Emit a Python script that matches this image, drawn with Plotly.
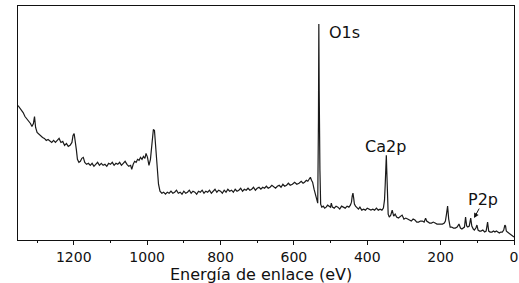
import plotly.graph_objects as go

# Binding energy (eV) and intensity (a.u.)
energy = [1352, 1348, 1343, 1338, 1333, 1328, 1323, 1318, 1314, 1310, 1307, 1304, 1300,
          1295, 1290, 1285, 1280, 1275, 1270, 1265, 1260, 1255, 1250, 1245, 1240, 1235,
          1230, 1225, 1220, 1215, 1210, 1205, 1202, 1199, 1196, 1193, 1190, 1186, 1182,
          1178, 1174, 1170, 1165, 1160, 1155, 1150, 1145, 1140, 1135, 1130, 1125, 1120,
          1115, 1110, 1105, 1100, 1095, 1090, 1085, 1080, 1075, 1070, 1065, 1060, 1055,
          1050, 1045, 1042, 1038, 1034, 1030, 1026, 1022, 1018, 1014, 1010, 1006, 1003,
          999, 995, 991, 987, 983, 980, 977, 973, 969, 965, 960, 955, 950, 945, 940, 935,
          930, 925, 920, 915, 910, 905, 900, 895, 890, 885, 880, 875, 870, 865, 860, 855,
          850, 845, 840, 835, 830, 825, 820, 815, 810, 805, 800, 795, 790, 785, 780, 775,
          770, 765, 760, 755, 750, 745, 740, 735, 730, 725, 720, 715, 710, 705, 700, 695,
          690, 685, 680, 675, 670, 665, 660, 655, 650, 645, 640, 635, 630, 625, 620, 615,
          610, 604, 598, 592, 586, 580, 575, 571, 566, 562, 558, 555, 552, 549, 545, 541,
          538, 535, 533, 532, 531, 529, 527, 524, 520, 516, 512, 508, 504, 500, 498, 495,
          490, 485, 480, 475, 470, 465, 460, 455, 450, 446, 443, 441, 439, 437, 435, 432,
          428, 424, 420, 415, 410, 405, 400, 395, 390, 385, 380, 375, 370, 365, 360, 356,
          353, 351, 349, 348, 347, 345, 343, 340, 336, 332, 328, 324, 320, 315, 310, 305,
          300, 295, 290, 285, 280, 275, 270, 265, 260, 255, 250, 245, 241, 238, 235, 230,
          225, 220, 215, 210, 205, 200, 195, 190, 187, 184, 181, 178, 174, 170, 165, 160,
          155, 150, 146, 142, 138, 135, 132, 129, 126, 122, 118, 115, 111, 108, 104, 101,
          98, 94, 90, 85, 80, 76, 72, 69, 65, 60, 56, 52, 48, 44, 40, 36, 32, 28, 25, 23,
          21, 18, 14, 10, 6, 3, 0]
intensity = [135, 133, 130, 128, 124, 122, 119, 117, 114, 117, 124, 113, 108,
             106, 104, 103, 102, 100, 101, 99, 98, 100, 98, 100, 102, 98,
             99, 95, 97, 94, 95, 98, 105, 107, 101, 91, 81, 78, 79,
             82, 83, 78, 76, 77, 75, 77, 74, 76, 78, 75, 77, 75,
             76, 74, 77, 76, 78, 75, 77, 76, 78, 75, 77, 79, 76,
             74, 75, 71, 76, 79, 78, 81, 80, 83, 81, 84, 82, 87,
             83, 75, 81, 96, 111, 110, 96, 73, 56, 49, 47, 48, 46, 48, 47, 49,
             47, 48, 50, 47, 48, 46, 49, 47, 48, 50, 47, 49, 48, 46, 49, 48,
             50, 47, 49, 48, 50, 47, 49, 51, 48, 50, 49, 47, 50, 48, 51, 49,
             50, 48, 51, 49, 50, 52, 49, 51, 50, 52, 50, 51, 53, 50, 52, 53,
             51, 53, 52, 54, 52, 53, 55, 53, 52, 54, 55, 53, 56, 54, 55, 57,
             55, 56, 58, 56, 57, 59, 57, 58, 60, 59, 62, 63, 60, 58, 51, 45,
             41, 37, 120, 217, 150, 70, 36, 33, 34, 32, 33, 35, 34, 33, 37, 33,
             32, 34, 33, 31, 34, 33, 32, 34, 33, 35, 38, 44, 47, 42, 36, 34,
             32, 31, 33, 30, 31, 30, 32, 31, 30, 31, 30, 32, 30, 31, 30, 32,
             40, 56, 70, 85, 72, 46, 26, 23, 25, 30, 24, 26, 23, 22, 24, 25,
             21, 22, 21, 20, 19, 21, 20, 18, 18, 19, 19, 18, 22, 19, 18, 17,
             17, 18, 17, 16, 16, 16, 16, 17, 19, 26, 34, 21, 13, 13, 12, 12,
             13, 16, 12, 11, 12, 13, 23, 14, 13, 14, 22, 14, 11, 10, 12, 15,
             10, 9, 9, 10, 8, 9, 18, 9, 8, 8, 9, 8, 9, 8, 7, 8, 8, 10, 15, 14,
             9, 8, 7, 6, 5, 4, 3]

# Peak labels
peak_labels = ["O1s", "Ca2p", "P2p"]
label_energy = [511, 350, 85]
label_intensity = [208, 94, 41]

tick_values = [1200, 1000, 800, 600, 400, 200, 0]
x_title = "Energía de enlace (eV)"

FONT = "DejaVu Sans"
INK = "#111"

fig = go.Figure()
fig.add_trace(go.Scatter(x=energy, y=intensity, mode="lines",
                         line=dict(color="#1a1a1a", width=1.2), showlegend=False,
                         hoverinfo="skip"))

for i in range(len(peak_labels)):
    fig.add_annotation(x=label_energy[i], y=label_intensity[i], text=peak_labels[i],
                       showarrow=False, xanchor="left" if i == 0 else "center",
                       yanchor="middle",
                       font=dict(family=FONT, size=16, color=INK))
# P2p arrow
fig.add_annotation(x=109, y=22, ax=6, ay=-11, text="", showarrow=True,
                   arrowhead=2, arrowsize=1, arrowwidth=1, arrowcolor=INK)

# x-axis title as paper annotation for exact placement
fig.add_annotation(xref="paper", yref="paper", x=0.49, y=-0.1,
                   text=x_title, showarrow=False, xanchor="center", yanchor="top",
                   font=dict(family=FONT, size=16, color=INK))

fig.update_xaxes(range=[1352, 0], tickvals=tick_values, automargin=False,
                 ticks="outside", ticklen=4, tickwidth=1, tickcolor=INK,
                 minor=dict(ticks="outside", ticklen=2, dtick=100, tickcolor=INK),
                 showline=True, linecolor=INK, linewidth=1, mirror=True,
                 showgrid=False, zeroline=False,
                 tickfont=dict(family=FONT, size=14, color=INK))
fig.update_yaxes(range=[0, 235], showticklabels=False, ticks="", automargin=False,
                 showline=True, linecolor=INK, linewidth=1, mirror=True,
                 showgrid=False, zeroline=False)

fig.update_layout(width=519, height=283, margin=dict(l=18, r=5, t=6, b=43),
                  plot_bgcolor="white", paper_bgcolor="white")

fig.write_html("out.html", config={"displayModeBar": False},
               post_script="document.body.style.margin='0';document.body.style.overflow='hidden';")
